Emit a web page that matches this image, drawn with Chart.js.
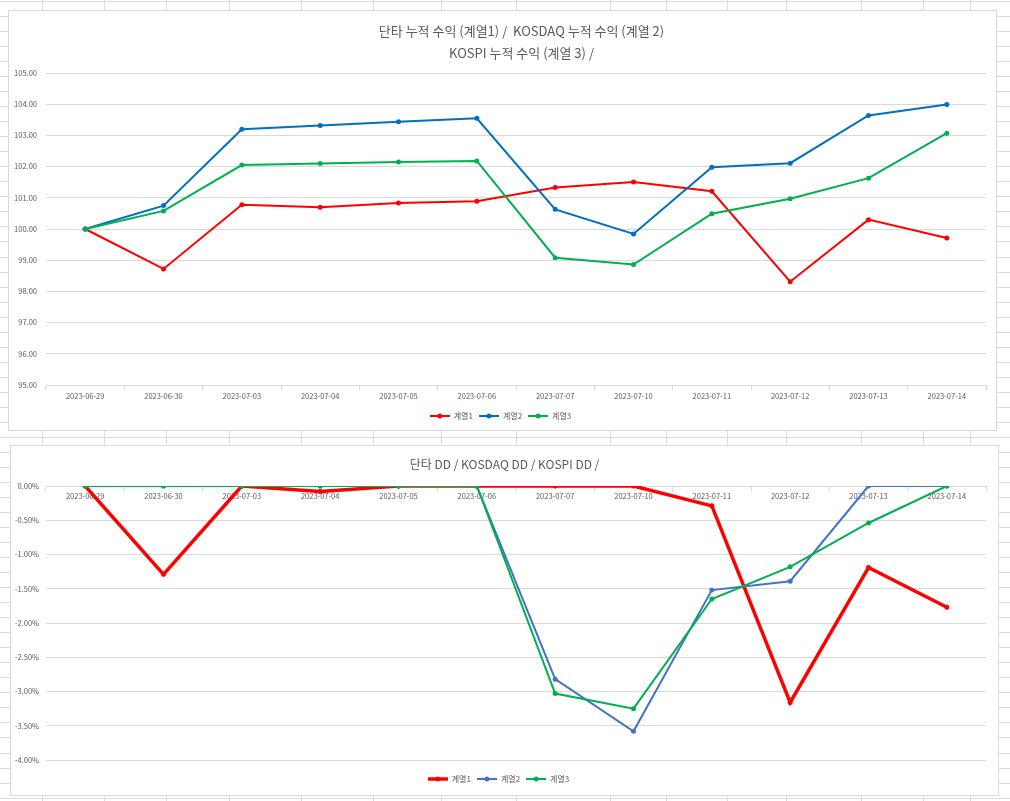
<!DOCTYPE html>
<html><head><meta charset="utf-8">
<script src="https://cdn.jsdelivr.net/npm/chart.js@4.4.0/dist/chart.umd.min.js"></script>
<style>
html,body{margin:0;padding:0;background:#fff;}
body{width:1010px;height:801px;position:relative;overflow:hidden;}
#bg{position:absolute;left:0;top:0;}
.box{position:absolute;background:#fff;border:1px solid #d9d9d9;}
#box1{left:8px;top:10px;width:987px;height:419px;}
#box2{left:10px;top:445px;width:987px;height:349px;}
canvas.c{display:block;}
</style></head>
<body>
<canvas id="bg" width="1010" height="801"></canvas>
<div class="box" id="box1"><canvas class="c" id="c1" width="987" height="419"></canvas></div>
<div class="box" id="box2"><canvas class="c" id="c2" width="987" height="349"></canvas></div>
<script>
// ---- data ----
const categories = ['2023-06-29','2023-06-30','2023-07-03','2023-07-04','2023-07-05','2023-07-06','2023-07-07','2023-07-10','2023-07-11','2023-07-12','2023-07-13','2023-07-14'];
const seriesNames = ['계열1','계열2','계열3'];
const cumReturn1 = [100.00, 98.72, 100.78, 100.70, 100.83, 100.89, 101.33, 101.51, 101.21, 98.31, 100.30, 99.71];
const cumReturn2 = [100.00, 100.75, 103.20, 103.32, 103.44, 103.55, 100.63, 99.84, 101.98, 102.11, 103.64, 103.99];
const cumReturn3 = [100.00, 100.58, 102.05, 102.10, 102.15, 102.18, 99.08, 98.86, 100.49, 100.97, 101.63, 103.07];
const dd1 = [0, -1.29, 0, -0.08, 0, 0, 0, 0, -0.29, -3.16, -1.19, -1.77];
const dd2 = [0, 0, 0, 0, 0, 0, -2.82, -3.58, -1.52, -1.39, 0, 0];
const dd3 = [0, 0, 0, 0, 0, 0, -3.03, -3.25, -1.65, -1.18, -0.54, 0];
const title1 = ['단타 누적 수익 (계열1) /  KOSDAQ 누적 수익 (계열 2)', 'KOSPI 누적 수익 (계열 3) /'];
const title2 = '단타 DD / KOSDAQ DD / KOSPI DD /';

// ---- spreadsheet background ----
(function(){
  const g = document.getElementById('bg').getContext('2d');
  g.strokeStyle = '#dcdcdc'; g.lineWidth = 1;
  for (let k = 0; k < 55; k++) {
    const y = Math.round(1 + 15.03 * k) + 0.5;
    g.beginPath(); g.moveTo(0, y); g.lineTo(1010, y); g.stroke();
  }
  [42,104,166,229,301,373,441,516,610,666,727,786,861,923,970].forEach(x => {
    g.beginPath(); g.moveTo(x + 0.5, 0); g.lineTo(x + 0.5, 801); g.stroke();
  });
})();

const GRID = '#d9d9d9', TXT = '#595959';
const CJK = '"Noto Sans CJK KR", "Noto Sans", sans-serif';
const RED = '#ff0000', GREEN = '#00b050';

function legendImg(color, lw) {
  const c = document.createElement('canvas'); c.width = 20; c.height = 8;
  const g = c.getContext('2d');
  g.strokeStyle = color; g.lineWidth = lw;
  g.beginPath(); g.moveTo(0, 4); g.lineTo(20, 4); g.stroke();
  g.fillStyle = color; g.beginPath(); g.arc(10, 4, 2.5, 0, Math.PI * 2); g.fill();
  return c;
}
function legendOpts(imgs) {
  return {
    position: 'bottom', weight: 2000,
    labels: {
      usePointStyle: true, pointStyleWidth: 20, boxHeight: 8, padding: 6,
      font: {family: CJK, size: 8}, color: TXT,
      generateLabels: (chart) => chart.data.datasets.map((ds, i) => ({
        text: ds.label, pointStyle: imgs[i], fillStyle: ds.borderColor,
        strokeStyle: 'rgba(0,0,0,0)', lineWidth: 0, hidden: false, datasetIndex: i, fontColor: TXT
      }))
    }
  };
}
function ds(label, data, color, lw, order) {
  return {label, data, borderColor: color, backgroundColor: color, borderWidth: lw,
    pointRadius: 2.5, pointHoverRadius: 2.5, pointBackgroundColor: color, pointBorderColor: color,
    pointBorderWidth: 0, tension: 0, order};
}
// shifts the title and legend boxes horizontally (Excel centers them slightly off the middle)
function boxShift(dxTitle, dxLegend) {
  return {id: 'boxShift', afterLayout(chart) {
    const t = chart.titleBlock; if (t) { t.left += dxTitle; t.right += dxTitle; }
    const l = chart.legend; if (l) { l.left += dxLegend; l.right += dxLegend;
      (l.legendHitBoxes || []).forEach(h => { h.left += dxLegend; }); }
  }};
}

// ---- chart 1 ----
const BLUE1 = '#0070c0';
new Chart(document.getElementById('c1'), {
  type: 'line',
  data: {labels: categories, datasets: [
    ds(seriesNames[0], cumReturn1, RED, 2, 3),
    ds(seriesNames[1], cumReturn2, BLUE1, 2, 2),
    ds(seriesNames[2], cumReturn3, GREEN, 2, 1)
  ]},
  plugins: [boxShift(24, 3)],
  options: {
    responsive: false, animation: false, devicePixelRatio: 1,
    layout: {padding: {left: 0, right: 10, top: 0, bottom: 0}},
    plugins: {
      tooltip: {enabled: false},
      title: {display: true, text: title1, color: TXT, font: {family: CJK, size: 13, weight: 'normal', lineHeight: '22px'}, padding: {top: 9, bottom: 9}},
      legend: legendOpts([legendImg(RED, 2), legendImg(BLUE1, 2), legendImg(GREEN, 2)])
    },
    scales: {
      x: {
        offset: true,
        grid: {offset: true, drawOnChartArea: false, drawTicks: true, tickLength: 5, color: GRID},
        border: {display: true, color: GRID},
        ticks: {font: {family: CJK, size: 7.5}, color: TXT, padding: 2, maxRotation: 0, autoSkip: false},
        afterFit: (s) => { s.height = 21; }
      },
      y: {
        min: 95, max: 105,
        grid: {color: GRID, drawTicks: false},
        border: {display: false},
        ticks: {stepSize: 1, font: {family: CJK, size: 7.5}, color: TXT, padding: 9, callback: (v) => Number(v).toFixed(2)},
        afterFit: (s) => { s.width = 37; }
      }
    }
  }
});

// ---- chart 2 ----
const BLUE2 = '#4472c4';
new Chart(document.getElementById('c2'), {
  type: 'line',
  data: {labels: categories, datasets: [
    ds(seriesNames[0], dd1, RED, 3.5, 3),
    ds(seriesNames[1], dd2, BLUE2, 2, 2),
    ds(seriesNames[2], dd3, GREEN, 2, 1)
  ]},
  plugins: [boxShift(6, 0)],
  options: {
    responsive: false, animation: false, devicePixelRatio: 1,
    layout: {padding: {left: 0, right: 12, top: 0, bottom: 2}},
    plugins: {
      tooltip: {enabled: false},
      title: {display: true, text: title2, color: TXT, font: {family: CJK, size: 12, weight: 'normal', lineHeight: '18px'}, padding: {top: 9, bottom: 13}},
      subtitle: {display: true, text: '', position: 'bottom', weight: 500, font: {size: 1, lineHeight: '1px'}, padding: {top: 8, bottom: 0}},
      legend: legendOpts([legendImg(RED, 3.5), legendImg(BLUE2, 2), legendImg(GREEN, 2)])
    },
    scales: {
      x: {
        position: {y: 0},
        offset: true,
        grid: {offset: true, drawOnChartArea: false, drawTicks: true, tickLength: 4, color: GRID},
        border: {display: true, color: GRID},
        ticks: {font: {family: CJK, size: 7.5}, color: TXT, padding: 1.5, maxRotation: 0, autoSkip: false}
      },
      y: {
        min: -4, max: 0,
        grid: {color: GRID, drawTicks: false},
        border: {display: false},
        ticks: {stepSize: 0.5, font: {family: CJK, size: 7.5}, color: TXT, padding: 7, callback: (v) => Number(v).toFixed(2) + '%'},
        afterFit: (s) => { s.width = 35; }
      }
    }
  }
});
</script>
</body></html>
